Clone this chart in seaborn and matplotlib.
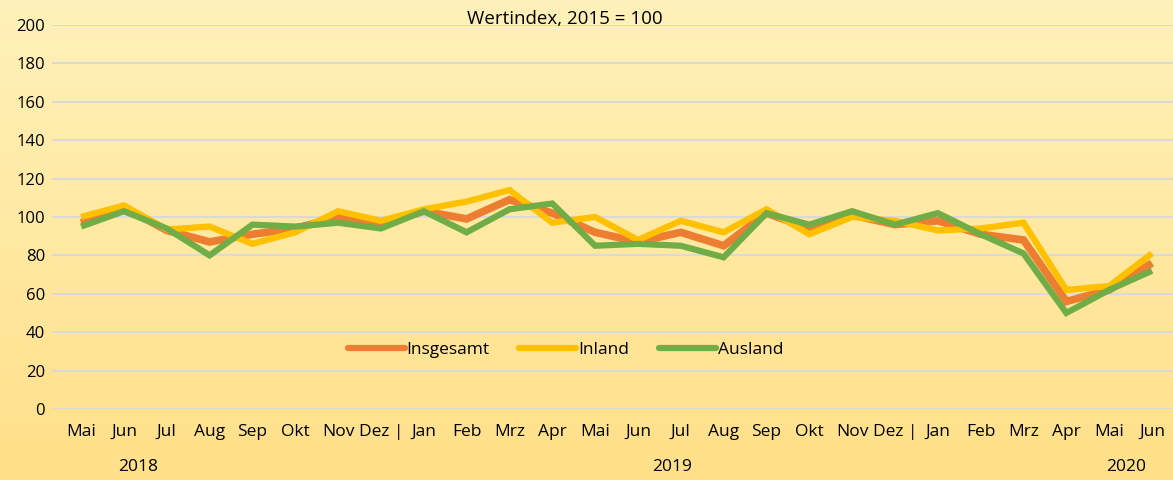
import numpy as np
import pandas as pd
import matplotlib
matplotlib.use("Agg")
import matplotlib.pyplot as plt
import seaborn as sns
from matplotlib.colors import LinearSegmentedColormap

# ---- data ----
months = ["Mai", "Jun", "Jul", "Aug", "Sep", "Okt", "Nov", "Dez |",
          "Jan", "Feb", "Mrz", "Apr", "Mai", "Jun", "Jul", "Aug", "Sep", "Okt", "Nov", "Dez |",
          "Jan", "Feb", "Mrz", "Apr", "Mai", "Jun"]
insgesamt = [97, 105, 93, 87, 91, 94, 100, 96, 103, 99, 109, 102, 92, 87, 92, 85, 102, 94, 101, 96,
             98, 91, 88, 56, 62, 76]
inland = [100, 106, 93.5, 95, 86, 92, 103, 98, 104, 108, 114, 97, 100, 88, 98, 92, 104, 91, 100, 98,
          93, 94, 97, 62, 64, 81]
ausland = [95, 103, 94, 80, 96, 95, 97, 94, 103, 92, 104, 107, 85, 86, 85, 79, 102, 96, 103, 96,
           102, 91, 81, 50, 62, 72]
series_names = ["Insgesamt", "Inland", "Ausland"]
years = ["2018", "2019", "2020"]
year_pos = [1.33, 13.8, 24.4]
title = "Wertindex, 2015 = 100"

colors = {"Insgesamt": "#ED7D31", "Inland": "#FFC000", "Ausland": "#70AD47"}
widths = {"Insgesamt": 5.5, "Inland": 4.5, "Ausland": 4.5}

idx = np.arange(len(months))
df = pd.concat([
    pd.DataFrame({"x": idx, "value": vals, "Serie": name})
    for name, vals in zip(series_names, [insgesamt, inland, ausland])
])

sns.set_theme(style="white")
plt.rcParams["font.family"] = ["Open Sans", "DejaVu Sans"]
plt.rcParams["text.color"] = "#000000"

fig = plt.figure(figsize=(11.73, 4.8), dpi=100)

# background gradient
bg = fig.add_axes([0, 0, 1, 1], zorder=-10)
cmap = LinearSegmentedColormap.from_list("bg", ["#FFF1BA", "#FFE089"])
grad = np.linspace(0, 1, 256).reshape(-1, 1)
bg.imshow(grad, aspect="auto", cmap=cmap, extent=[0, 1, 0, 1], origin="upper")
bg.set_axis_off()

ax = fig.add_axes([0.0443, 0.148, 0.9557, 0.8])
ax.set_facecolor("none")

for name in series_names:
    sub = df[df["Serie"] == name]
    sns.lineplot(data=sub, x="x", y="value", ax=ax, color=colors[name],
                 linewidth=widths[name], label=name, solid_joinstyle="miter",
                 solid_capstyle="butt")

ax.set_xlim(-0.68, 25.49)
ax.set_ylim(0, 200)
ax.set_yticks(np.arange(0, 201, 20))
ax.tick_params(axis="y", labelsize=12, pad=5, length=0, labelcolor="black")
ax.tick_params(axis="x", labelsize=12.5, pad=11, length=0, labelcolor="black")
ax.set_xticks(idx)
ax.set_xticklabels(months)
ax.grid(axis="y", color="#D9D9D9", linewidth=1.5)
ax.grid(axis="x", visible=False)
ax.set_axisbelow(True)
for s in ax.spines.values():
    s.set_visible(False)
ax.set_xlabel("")
ax.set_ylabel("")

for y, p in zip(years, year_pos):
    ax.text(p, -0.152, y, transform=ax.get_xaxis_transform(), ha="center", va="center",
            fontsize=12.5, color="black")

leg = ax.legend(loc="center", bbox_to_anchor=(0.458, 0.154), ncol=3, frameon=False,
                fontsize=12.5, handlelength=3.3, columnspacing=1.7, handletextpad=0.1)
for line in leg.get_lines():
    line.set_linewidth(4.5)
    line.set_solid_capstyle("round")

fig.text(565 / 1173, 1 - 19 / 480, title, ha="center", va="center", fontsize=13.5)

fig.savefig("out.png", dpi=100)
